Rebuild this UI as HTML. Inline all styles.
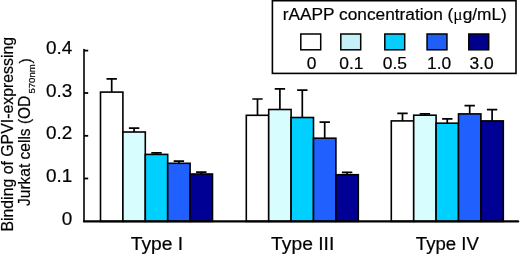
<!DOCTYPE html>
<html><head><meta charset="utf-8"><title>chart</title>
<style>html,body{margin:0;padding:0;background:#fff;}svg{display:block;will-change:transform;}text{font-family:"Liberation Sans",sans-serif;fill:#000;stroke:#000;stroke-width:0.2;}</style></head><body>
<svg width="520" height="254" viewBox="0 0 520 254">
<rect width="520" height="254" fill="#fff"/>
<rect x="100.50" y="92.10" width="22.40" height="129.30" fill="#ffffff" stroke="#000" stroke-width="1.6"/>
<rect x="122.90" y="132.00" width="22.40" height="89.40" fill="#d8fdff" stroke="#000" stroke-width="1.6"/>
<rect x="145.30" y="154.40" width="22.40" height="67.00" fill="#00d0ff" stroke="#000" stroke-width="1.6"/>
<rect x="167.70" y="163.30" width="22.40" height="58.10" fill="#2060ff" stroke="#000" stroke-width="1.6"/>
<rect x="190.10" y="174.00" width="22.40" height="47.40" fill="#000094" stroke="#000" stroke-width="1.6"/>
<path d="M111.70 92.10V78.90M106.50 78.90H116.90" fill="none" stroke="#000" stroke-width="1.7"/>
<path d="M134.10 132.00V128.10M128.90 128.10H139.30" fill="none" stroke="#000" stroke-width="1.7"/>
<path d="M156.50 154.40V152.90M151.30 152.90H161.70" fill="none" stroke="#000" stroke-width="1.7"/>
<path d="M178.90 163.30V161.20M173.70 161.20H184.10" fill="none" stroke="#000" stroke-width="1.7"/>
<path d="M201.30 174.00V172.10M196.10 172.10H206.50" fill="none" stroke="#000" stroke-width="1.7"/>
<rect x="246.30" y="115.30" width="22.40" height="106.10" fill="#ffffff" stroke="#000" stroke-width="1.6"/>
<rect x="268.70" y="109.50" width="22.40" height="111.90" fill="#d8fdff" stroke="#000" stroke-width="1.6"/>
<rect x="291.10" y="117.50" width="22.40" height="103.90" fill="#00d0ff" stroke="#000" stroke-width="1.6"/>
<rect x="313.50" y="138.20" width="22.40" height="83.20" fill="#2060ff" stroke="#000" stroke-width="1.6"/>
<rect x="335.90" y="174.70" width="22.40" height="46.70" fill="#000094" stroke="#000" stroke-width="1.6"/>
<path d="M257.50 115.30V99.00M252.30 99.00H262.70" fill="none" stroke="#000" stroke-width="1.7"/>
<path d="M279.90 109.50V88.90M274.70 88.90H285.10" fill="none" stroke="#000" stroke-width="1.7"/>
<path d="M302.30 117.50V90.20M297.10 90.20H307.50" fill="none" stroke="#000" stroke-width="1.7"/>
<path d="M324.70 138.20V122.20M319.50 122.20H329.90" fill="none" stroke="#000" stroke-width="1.7"/>
<path d="M347.10 174.70V172.40M341.90 172.40H352.30" fill="none" stroke="#000" stroke-width="1.7"/>
<rect x="391.30" y="120.90" width="22.40" height="100.50" fill="#ffffff" stroke="#000" stroke-width="1.6"/>
<rect x="413.70" y="115.20" width="22.40" height="106.20" fill="#d8fdff" stroke="#000" stroke-width="1.6"/>
<rect x="436.10" y="123.20" width="22.40" height="98.20" fill="#00d0ff" stroke="#000" stroke-width="1.6"/>
<rect x="458.50" y="113.90" width="22.40" height="107.50" fill="#2060ff" stroke="#000" stroke-width="1.6"/>
<rect x="480.90" y="120.90" width="22.40" height="100.50" fill="#000094" stroke="#000" stroke-width="1.6"/>
<path d="M402.50 120.90V113.40M397.30 113.40H407.70" fill="none" stroke="#000" stroke-width="1.7"/>
<path d="M424.90 115.20V113.90M419.70 113.90H430.10" fill="none" stroke="#000" stroke-width="1.7"/>
<path d="M447.30 123.20V118.90M442.10 118.90H452.50" fill="none" stroke="#000" stroke-width="1.7"/>
<path d="M469.70 113.90V105.60M464.50 105.60H474.90" fill="none" stroke="#000" stroke-width="1.7"/>
<path d="M492.10 120.90V109.60M486.90 109.60H497.30" fill="none" stroke="#000" stroke-width="1.7"/>
<path d="M84 49.5V221.40" stroke="#000" stroke-width="1.6" fill="none" stroke-linecap="round"/>
<path d="M84 221.40H518.2" stroke="#000" stroke-width="2.2" fill="none" stroke-linecap="round"/>
<path d="M84 50.6H88.2" stroke="#000" stroke-width="1.8" fill="none"/>
<path d="M84 93.0H88.2" stroke="#000" stroke-width="1.8" fill="none"/>
<path d="M84 135.8H88.2" stroke="#000" stroke-width="1.8" fill="none"/>
<path d="M84 178.5H88.2" stroke="#000" stroke-width="1.8" fill="none"/>
<text x="72.2" y="53.9" font-size="18.9" text-anchor="end">0.4</text>
<text x="72.2" y="96.6" font-size="18.9" text-anchor="end">0.3</text>
<text x="72.2" y="139.3" font-size="18.9" text-anchor="end">0.2</text>
<text x="72.2" y="182.2" font-size="18.9" text-anchor="end">0.1</text>
<text x="72.2" y="225.2" font-size="18.9" text-anchor="end">0</text>
<text x="130.7" y="249.6" font-size="18.9" textLength="52.51" lengthAdjust="spacingAndGlyphs">Type I</text>
<text x="271.1" y="249.6" font-size="18.9" textLength="63.22" lengthAdjust="spacingAndGlyphs">Type III</text>
<text x="415.8" y="249.6" font-size="18.9" textLength="63.06" lengthAdjust="spacingAndGlyphs">Type IV</text>
<text transform="translate(12.8,231.6) rotate(-90)" font-size="15.85">Binding of GPVI-expressing</text>
<text transform="translate(30.2,205.9) rotate(-90)" font-size="15.8" textLength="110.2" lengthAdjust="spacingAndGlyphs">Jurkat cells (OD</text>
<text transform="translate(35.2,93.6) rotate(-90)" font-size="9.6">570nm</text>
<text transform="translate(30.8,63.45) rotate(-90)" font-size="15.8">)</text>
<rect x="272.4" y="0.7" width="243.6" height="72.7" fill="#fff" stroke="#000" stroke-width="1.6"/>
<text x="282.7" y="19.75" font-size="17.3">rAAPP concentration (<tspan font-family="Liberation Serif" stroke="none">μ</tspan>g/mL)</text>
<rect x="300.80" y="34.0" width="19.9" height="15.8" fill="#ffffff" stroke="#000" stroke-width="1.5"/>
<rect x="340.80" y="34.0" width="19.9" height="15.8" fill="#c4f0f8" stroke="#000" stroke-width="1.5"/>
<rect x="384.80" y="34.0" width="19.9" height="15.8" fill="#08ccfb" stroke="#000" stroke-width="1.5"/>
<rect x="427.05" y="34.0" width="19.9" height="15.8" fill="#1f5ff5" stroke="#000" stroke-width="1.5"/>
<rect x="468.80" y="34.0" width="19.9" height="15.8" fill="#00008c" stroke="#000" stroke-width="1.5"/>
<text x="311.5" y="69.2" font-size="17.4" text-anchor="middle">0</text>
<text x="351.4" y="69.2" font-size="17.4" text-anchor="middle">0.1</text>
<text x="394.9" y="69.2" font-size="17.4" text-anchor="middle">0.5</text>
<text x="439.1" y="69.2" font-size="17.4" text-anchor="middle">1.0</text>
<text x="481.5" y="69.2" font-size="17.4" text-anchor="middle">3.0</text>
</svg></body></html>
